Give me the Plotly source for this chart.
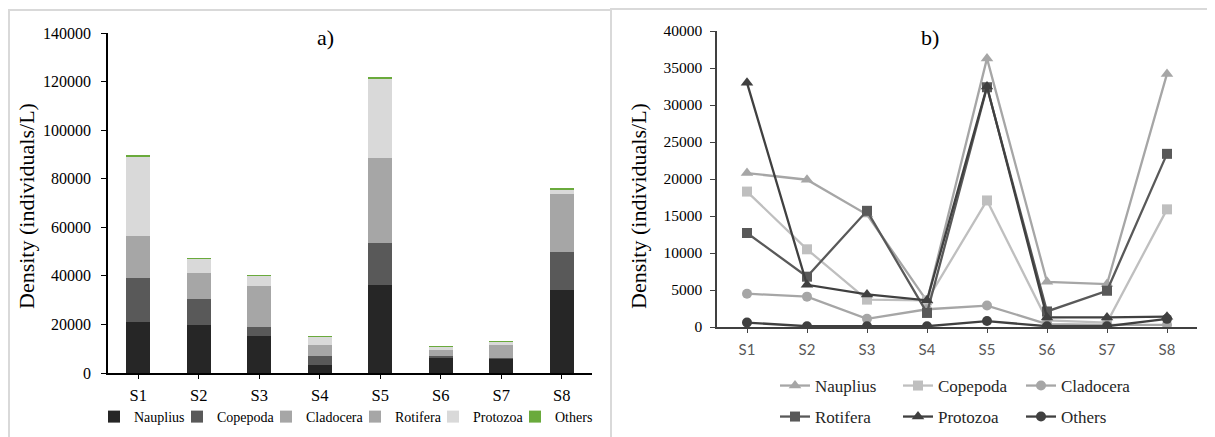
import plotly.graph_objects as go

sites = ["S1", "S2", "S3", "S4", "S5", "S6", "S7", "S8"]
nauplius = [20800, 19900, 15200, 3500, 36300, 6100, 5800, 34200]
copepoda = [18300, 10500, 3700, 3600, 17100, 900, 600, 15900]
cladocera = [4500, 4100, 1100, 2400, 2900, 400, 300, 300]
rotifera = [12700, 6800, 15700, 1900, 32400, 2100, 4900, 23400]
protozoa = [33000, 5700, 4400, 3600, 32500, 1300, 1300, 1400]
others = [600, 100, 100, 100, 800, 100, 100, 1100]

names = ["Nauplius", "Copepoda", "Cladocera", "Rotifera", "Protozoa", "Others"]
series = [nauplius, copepoda, cladocera, rotifera, protozoa, others]
bar_colors = ["#262626", "#595959", "#a6a6a6", "#a6a6a6", "#d9d9d9", "#6aaa3c"]
line_colors = ["#a6a6a6", "#bfbfbf", "#a6a6a6", "#595959", "#404040", "#404040"]
line_symbols = ["triangle-up", "square", "circle", "square", "triangle-up", "circle"]
bar_legend_widths = [38, 44, 44, 33, 37, 38]

# the page body has an 8px margin, so the figure is placed at (8, 8) on screen
OFF = 8
W, H = 1215 - OFF, 437 - OFF
SERIF = "Liberation Serif, Times New Roman, serif"

def px_x(p):
    return (p - OFF) / W

def px_y(p):
    return 1 - (p - OFF) / H

fig = go.Figure()

for n, s, c, lw in zip(names, series, bar_colors, bar_legend_widths):
    fig.add_trace(go.Bar(x=sites, y=s, name=n, marker=dict(color=c, line=dict(width=0)),
                         xaxis="x", yaxis="y", legend="legend", legendwidth=lw))

for i, (n, s, c, m) in enumerate(zip(names, series, line_colors, line_symbols)):
    fig.add_trace(go.Scatter(x=sites, y=s, name=n, mode="lines+markers",
                             line=dict(color=c, width=2.3),
                             marker=dict(symbol=m, size=10 if m != "triangle-up" else 11, color=c),
                             xaxis="x2", yaxis="y2",
                             legend="legend2" if i < 3 else "legend3",
                             legendwidth=78))

common_x = dict(type="category", range=[-0.5, 7.5], showgrid=False, zeroline=False,
                showline=True, ticks="outside", ticklen=4)

fig.update_layout(
    width=W, height=H,
    margin=dict(l=0, r=0, t=0, b=0, autoexpand=False),
    paper_bgcolor="white", plot_bgcolor="white",
    barmode="stack", bargap=0.6,
    font=dict(family=SERIF, color="#000000"),
    xaxis=dict(**common_x, domain=[px_x(108), px_x(592)], anchor="y",
               linecolor="#000000", linewidth=1.5, tickcolor="#000000",
               tickfont=dict(family=SERIF, size=16.5, color="#000000"), ticklabelstandoff=2),
    yaxis=dict(domain=[px_y(373), px_y(33)], anchor="x", range=[0, 140000], dtick=20000,
               showgrid=False, zeroline=False, showline=True, linecolor="#000000", linewidth=1.5,
               ticks="outside", ticklen=5, tickcolor="#000000", tickformat="d",
               tickfont=dict(family=SERIF, size=16, color="#000000"), ticklabelstandoff=7),
    xaxis2=dict(**common_x, domain=[px_x(717), px_x(1197)], anchor="y2",
                linecolor="#404040", linewidth=1.5, tickcolor="#404040",
                tickfont=dict(family="Lato", size=15, color="#595959"), ticklabelstandoff=4),
    yaxis2=dict(domain=[px_y(327), px_y(31)], anchor="x2", range=[0, 40000], dtick=5000,
                showgrid=False, zeroline=False, showline=True, linecolor="#404040", linewidth=1.5,
                ticks="outside", ticklen=5, tickcolor="#404040", tickformat="d",
                tickfont=dict(family=SERIF, size=15.5, color="#000000"), ticklabelstandoff=5),
    legend=dict(orientation="h", x=px_x(346), xanchor="center", y=px_y(417), yanchor="middle",
                font=dict(family=SERIF, size=14, color="#000000"), bgcolor="rgba(0,0,0,0)",
                traceorder="normal"),
    legend2=dict(orientation="h", x=px_x(775), xanchor="left", y=px_y(386), yanchor="middle",
                 font=dict(family=SERIF, size=17, color="#262626"), bgcolor="rgba(0,0,0,0)",
                 traceorder="normal"),
    legend3=dict(orientation="h", x=px_x(775), xanchor="left", y=px_y(417), yanchor="middle",
                 font=dict(family=SERIF, size=17, color="#262626"), bgcolor="rgba(0,0,0,0)",
                 traceorder="normal"),
    shapes=[
        dict(type="rect", xref="paper", yref="paper", x0=px_x(9), x1=px_x(611), y0=-0.05, y1=px_y(10),
             line=dict(color="#d9d9d9", width=2)),
        dict(type="rect", xref="paper", yref="paper", x0=px_x(611), x1=1.05, y0=-0.05, y1=px_y(9),
             line=dict(color="#d9d9d9", width=2)),
    ],
    annotations=[
        dict(text="a)", x=px_x(325), y=px_y(37), xref="paper", yref="paper", showarrow=False,
             xanchor="center", yanchor="middle",
             font=dict(family=SERIF, size=22, color="#000000")),
        dict(text="b)", x=px_x(930), y=px_y(37), xref="paper", yref="paper", showarrow=False,
             xanchor="center", yanchor="middle",
             font=dict(family=SERIF, size=22, color="#000000")),
        dict(text="Density (individuals/L)", x=px_x(26), y=px_y(206), xref="paper", yref="paper",
             showarrow=False, textangle=-90, xanchor="center", yanchor="middle",
             font=dict(family=SERIF, size=22, color="#000000")),
        dict(text="Density (individuals/L)", x=px_x(638), y=px_y(206), xref="paper", yref="paper",
             showarrow=False, textangle=-90, xanchor="center", yanchor="middle",
             font=dict(family=SERIF, size=22, color="#000000")),
    ],
)

fig.write_html("out.html")
